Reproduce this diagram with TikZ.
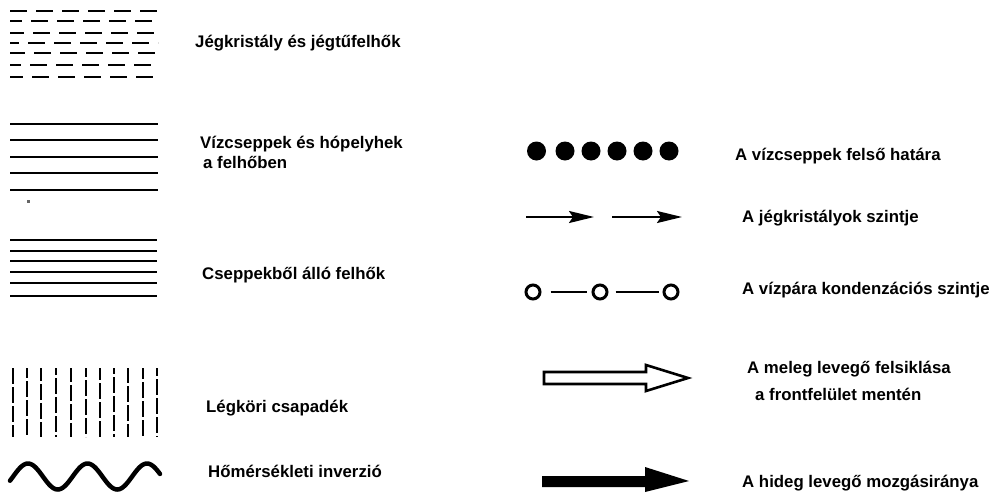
\documentclass[tikz,border=0pt]{standalone}
\usepackage{fontspec}
\setmainfont{Liberation Sans}
\usetikzlibrary{arrows.meta}
\begin{document}
\begin{tikzpicture}[x=1pt,y=-1pt,
  lbl/.style={anchor=base west,inner sep=0pt,font=\fontsize{16.8}{18}\selectfont\bfseries},
  icedash/.style={line width=2.3pt,dash pattern=on 17pt off 9pt},
  dropline/.style={line width=2.6pt},
  rainline/.style={line width=2.6pt,dash pattern=on 16pt off 3pt},
  dotnode/.style={circle,fill=black,inner sep=0pt,minimum size=19pt},
  ringnode/.style={circle,draw=black,line width=3pt,inner sep=0pt,minimum size=14pt},
  smallarrow/.style={line width=2.2pt,-{Stealth[length=25pt,width=12pt,inset=4pt]}}
]
\useasboundingbox (0,0) rectangle (997,493);
\fill[white] (0,0) rectangle (997,493);

% --- ice crystal clouds (dashed rows)
\foreach \yy/\ph in {11/0,21/5,33/3,43/8,53/2,65/6,77/4}{
  \draw[icedash,dash phase=\ph pt] (10,\yy) -- (158,\yy);
}
% --- droplets and snowflakes
\foreach \yy in {124,140,157,173,190}{
  \draw[dropline] (10,\yy) -- (158,\yy);
}
\fill[black!60] (27,200) rectangle (30,203);
% --- droplet clouds
\foreach \yy in {240,251,261,272,283,296}{
  \draw[line width=2.9pt] (10,\yy) -- (157,\yy);
}
% --- precipitation
\foreach \xx/\ph in {13/0,27/6,41/3,56/9,71/2,86/7,100/4,114/10,128/1,143/5,157/8}{
  \draw[rainline,dash phase=\ph pt] (\xx,368) -- (\xx,437);
}
% --- inversion wave
\draw[line width=4.5pt,line cap=round] plot[domain=10:160,samples=120,smooth]
  (\x,{476.5-13*cos(6.0504*(\x-28))});

% --- left labels
\node[lbl] (t1) at (195,47) {Jégkristály és jégtűfelhők};
\node[lbl] (t2) at (200,148) {Vízcseppek és hópelyhek};
\node[lbl] (t2b) at (203,168) {a felhőben};
\node[lbl] (t3) at (202,279) {Cseppekből álló felhők};
\node[lbl] (t4) at (206,412) {Légköri csapadék};
\node[lbl] (t5) at (208,477) {Hőmérsékleti inverzió};

% --- dots
\foreach \i/\xx in {1/536.5,2/565,3/591,4/617,5/643,6/669}{
  \node[dotnode] (d\i) at (\xx,151) {};
}
% --- ice level arrows
\coordinate (a1s) at (526,217);
\coordinate (a1e) at (594,217);
\coordinate (a2s) at (612,217);
\coordinate (a2e) at (682,217);
\draw[smallarrow] (a1s) -- (a1e);
\draw[smallarrow] (a2s) -- (a2e);
% --- condensation level
\node[ringnode] (c1) at (533,292) {};
\node[ringnode] (c2) at (600,292) {};
\node[ringnode] (c3) at (671,292) {};
\draw[line width=2.6pt,shorten <=9pt,shorten >=5pt] (c1) -- (c2);
\draw[line width=2.6pt,shorten <=7pt,shorten >=4pt] (c2) -- (c3);
% --- warm air (hollow arrow)
\draw[line width=2.6pt,line join=miter]
  (544,372) -- (646,372) -- (646,365) -- (688,378) -- (646,391) -- (646,384) -- (544,384) -- cycle;
% --- cold air (filled arrow)
\fill[black] (542,476) -- (645,476) -- (645,467) -- (689,481) -- (645,492) -- (645,487) -- (542,487) -- cycle;

% --- right labels
\node[lbl] (r1) at (735,160) {A vízcseppek felső határa};
\node[lbl] (r2) at (742,222) {A jégkristályok szintje};
\node[lbl] (r3) at (742,294) {A vízpára kondenzációs szintje};
\node[lbl] (r4) at (747,373) {A meleg levegő felsiklása};
\node[lbl] (r4b) at (755,400) {a frontfelület mentén};
\node[lbl] (r5) at (742,487) {A hideg levegő mozgásiránya};
\end{tikzpicture}
\end{document}
